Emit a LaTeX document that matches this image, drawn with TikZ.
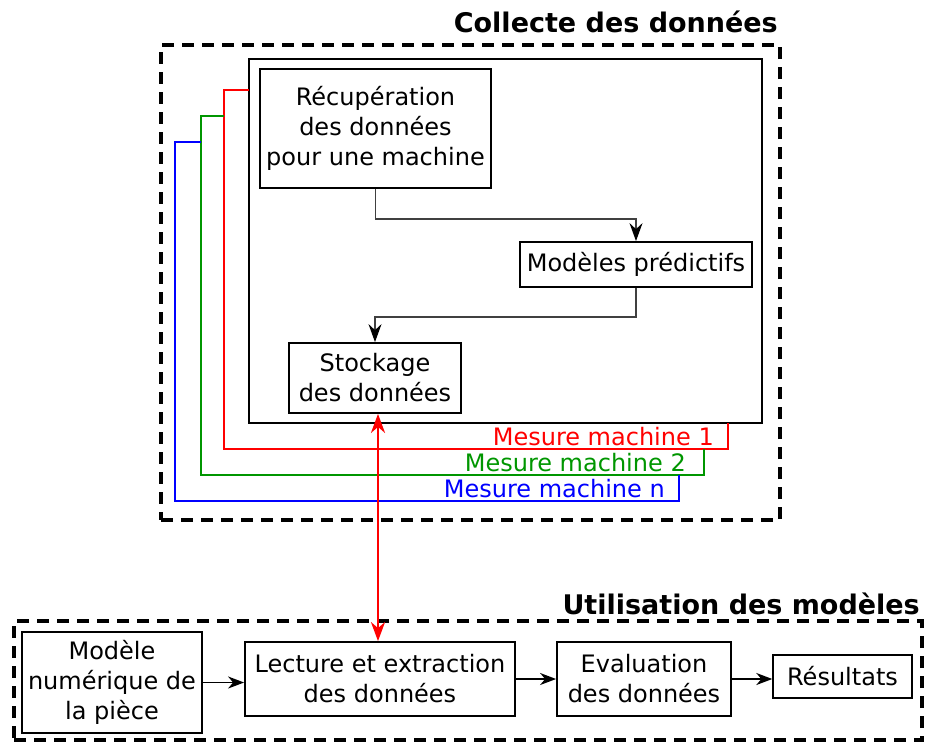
\documentclass[tikz,border=0pt]{standalone}
\usepackage{fontspec}
\setmainfont{DejaVu Sans}
\usetikzlibrary{arrows.meta,calc}
\definecolor{mred}{RGB}{255,0,0}
\definecolor{mgreen}{RGB}{0,150,0}
\definecolor{mblue}{RGB}{0,0,255}
\tikzset{
  box/.style={draw, line width=1.8pt, align=center, inner sep=0pt},
  dashbox/.style={draw, line width=3.5pt, dash pattern=on 12pt off 8pt},
  conn/.style={draw=black!75, line width=1.4pt, -{Stealth[length=18pt,width=13pt,inset=6pt,black]}},
  hconn/.style={draw=black, line width=1.8pt, -{Stealth[length=16pt,width=12pt,inset=5pt]}},
  redtip/.style={{Stealth[length=19pt,width=14pt,inset=6pt]}-{Stealth[length=19pt,width=14pt,inset=6pt]}},
  titl/.style={font=\fontsize{27}{32}\selectfont\bfseries, inner sep=0pt},
  lbl/.style={inner sep=0pt, anchor=base east},
  wire/.style={line width=1.2pt}
}
\begin{document}
\begin{tikzpicture}[x=1pt,y=-1pt,font=\fontsize{24}{30}\selectfont]
\useasboundingbox (0,0) rectangle (926,742);
% top group
\node[dashbox, minimum width=619pt, minimum height=475pt] (col) at (470.5,282.5) {};
\node[titl, anchor=base east] (coltitle) at (778,32) {Collecte des données};
\node[draw, line width=1.8pt, minimum width=513pt, minimum height=364pt, inner sep=0pt] (inner) at (505.5,241) {};
\node[box, minimum width=231pt, minimum height=119pt] (rec) at (375.5,128.5) {Récupération\\des données\\pour une machine};
\node[box, minimum width=232pt, minimum height=45pt] (mod) at (636,264.5) {Modèles prédictifs};
\node[box, minimum width=172pt, minimum height=70pt] (stock) at (375,378) {Stockage\\des données};
\draw[conn] (rec.south) -- ++(0,30) -| (mod.north);
\draw[conn] (mod.south) -- ++(0,29) -| (stock.north);
% machine wires
\coordinate (r1) at (249,90);
\coordinate (r2) at (728,423);
\draw[wire, mred] (r1) -- (224,90) -- (224,449) -- (728,449) -- (r2);
\coordinate (g1) at (224,116);
\coordinate (g2) at (704,449);
\draw[wire, mgreen] (g1) -- (201,116) -- (201,475) -- (704,475) -- (g2);
\coordinate (b1) at (201,142);
\coordinate (b2) at (679,475);
\draw[wire, mblue] (b1) -- (175,142) -- (175,501) -- (679,501) -- (b2);
\node[lbl, text=mred] (l1) at (714,445) {Mesure machine 1};
\node[lbl, text=mgreen] (l2) at (686,471) {Mesure machine 2};
\node[lbl, text=mblue] (l3) at (665,497) {Mesure machine n};
% bottom group
\node[dashbox, minimum width=908pt, minimum height=119pt] (util) at (468,680.5) {};
\node[titl, anchor=base east] (utiltitle) at (920,614) {Utilisation des modèles};
\node[box, minimum width=180pt, minimum height=101pt] (num) at (112,682.5) {Modèle\\numérique de\\la pièce};
\node[box, minimum width=270pt, minimum height=74pt] (lect) at (380,679) {Lecture et extraction\\des données};
\node[box, minimum width=174pt, minimum height=74pt] (eval) at (644,679) {Evaluation\\des données};
\node[box, line width=1.4pt, minimum width=139pt, minimum height=43pt] (res) at (842.5,676.5) {Résultats};
\draw[hconn] (num.east) -- (num.east -| lect.west);
\draw[hconn] (lect.east) -- (lect.east -| eval.west);
\draw[hconn] (eval.east) -- (eval.east -| res.west);
% exchange arrow
\coordinate (rx) at (378,0);
\draw[mred, line width=2.6pt, redtip] (rx |- stock.south) -- (rx |- lect.north);
\end{tikzpicture}
\end{document}
